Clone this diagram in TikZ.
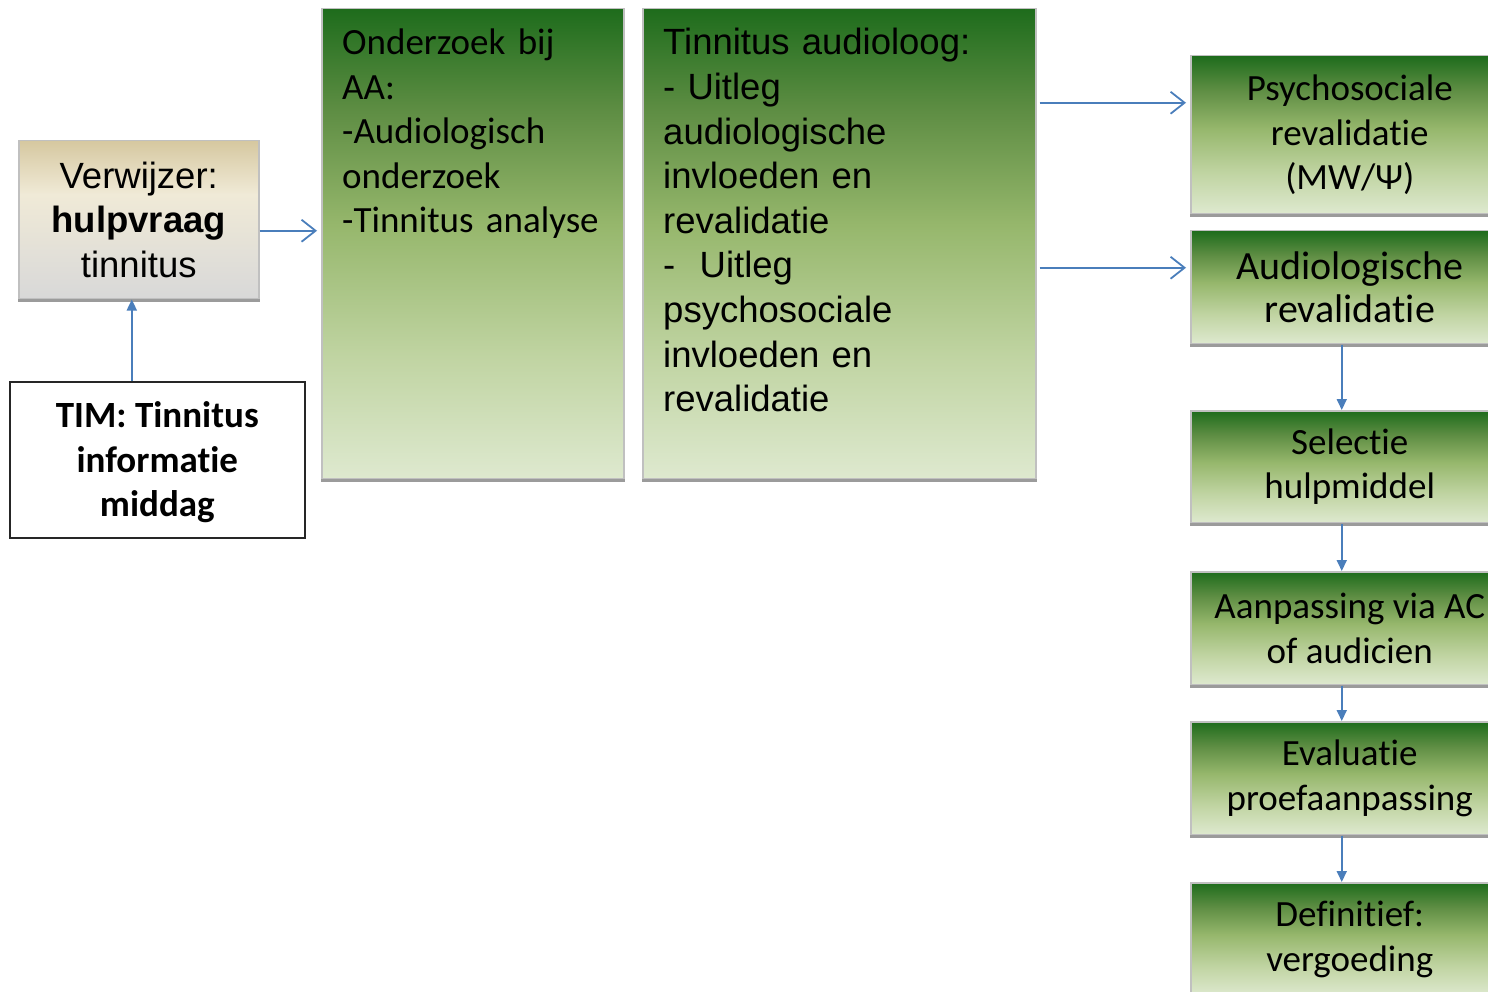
\documentclass[tikz,border=0pt]{standalone}
\usepackage{fontspec}
\setmainfont{Carlito}[Ligatures={NoCommon}]
\newfontfamily\arialf{Liberation Sans}
\usetikzlibrary{arrows.meta,calc}
\definecolor{arrowblue}{RGB}{74,126,187}
\definecolor{boxgray}{RGB}{192,192,192}
\definecolor{shadowgray}{RGB}{155,155,155}
\definecolor{gT}{RGB}{30,108,28}
\definecolor{gA}{RGB}{95,142,68}
\definecolor{gM}{RGB}{150,183,108}
\definecolor{gC}{RGB}{192,212,162}
\definecolor{gB}{RGB}{222,233,207}
\definecolor{tT}{RGB}{214,200,160}
\definecolor{tM}{RGB}{240,234,215}
\definecolor{tB}{RGB}{216,216,216}
\pgfdeclareverticalshading{greengrad}{100bp}{color(0bp)=(gB); color(25bp)=(gB); color(38bp)=(gC); color(52bp)=(gM); color(64bp)=(gA); color(75bp)=(gT); color(100bp)=(gT)}
\pgfdeclareverticalshading{tangrad}{100bp}{color(0bp)=(tB); color(25bp)=(tB); color(58bp)=(tM); color(75bp)=(tT); color(100bp)=(tT)}
\begin{document}
\begin{tikzpicture}[x=1pt,y=-1pt,
  box/.style={draw=boxgray, line width=1.5pt, inner sep=0pt, anchor=north west},
  greenbox/.style={box, shading=greengrad},
  tanbox/.style={box, shading=tangrad},
  rbox/.style={greenbox, minimum width=318pt, align=center, font=\fontsize{37}{44.5}\selectfont},
  timbox/.style={draw=black!85, line width=1.6pt, fill=white, inner sep=0pt, anchor=north west},
  txt/.style={anchor=base west, inner sep=0pt, align=left},
  shadowline/.style={draw=shadowgray, line width=3pt},
  openarrow/.style={draw=arrowblue, line width=1.8pt, -{Straight Barb[length=14pt,width=22pt]}},
  filledarrow/.style={draw=arrowblue, line width=1.8pt, -{Triangle[length=11pt,width=10pt]}}
]
\path[use as bounding box] (0,0) rectangle (1488,992);
\clip (0,0) rectangle (1488,992);

% left column
\node[tanbox, minimum width=240pt, minimum height=158pt, align=center,
      font=\arialf\fontsize{36.5}{44.5}\selectfont] (verw) at (18,140)
      {Verwijzer:\\\textbf{hulpvraag}\\tinnitus};
\draw[shadowline] ([yshift=-1pt]verw.south west) -- ([yshift=-1pt]verw.south east);

\node[timbox, minimum width=295pt, minimum height=156pt] (tim) at (9,381) {};
\node[align=center, inner sep=0pt, font=\fontsize{37}{44.5}\selectfont\bfseries] (timT)
      at ([yshift=-2.5pt]tim.center) {TIM: Tinnitus\\informatie\\middag};

% middle boxes
\node[greenbox, minimum width=302pt, minimum height=470pt] (ond) at (321,8) {};
\draw[shadowline] ([yshift=-1pt]ond.south west) -- ([yshift=-1pt]ond.south east);
\node[txt, text width=280pt, font=\fontsize{37}{44.5}\selectfont] (ondT) at (342,55)
      {Onderzoek bij\\AA:\\-Audiologisch\\onderzoek\\-Tinnitus analyse};

\node[greenbox, minimum width=393pt, minimum height=470pt] (ta) at (642,8) {};
\draw[shadowline] ([yshift=-1pt]ta.south west) -- ([yshift=-1pt]ta.south east);
\node[txt, text width=370pt, font=\arialf\fontsize{36.5}{44.6}\selectfont] (taT) at (663,55)
      {Tinnitus audioloog:\\- Uitleg\\audiologische\\invloeden en\\revalidatie\\-\ \ Uitleg\\psychosociale\\invloeden en\\revalidatie};

% right column
\node[rbox, minimum height=158pt] (psy) at (1190,55) {Psychosociale\\revalidatie\\(MW/Ψ)};
\node[rbox, minimum height=113pt, font=\fontsize{40}{43}\selectfont] (aud) at (1190,230) {Audiologische\\revalidatie};
\node[rbox, minimum height=112pt] (sel) at (1190,410) {Selectie\\hulpmiddel};
\node[rbox, minimum height=113pt] (aan) at (1190,571) {Aanpassing via AC\\of audicien};
\node[rbox, minimum height=113pt] (eva) at (1190,721) {Evaluatie\\proefaanpassing};
\node[rbox, minimum height=113pt] (def) at (1190,882) {Definitief:\\vergoeding};
\foreach \b in {psy,aud,sel,aan,eva}
  \draw[shadowline] ([yshift=-1pt]\b.south west) -- ([yshift=-1pt]\b.south east);

% connectors
\coordinate (a1) at ([xshift=-25.5pt]tim.north);
\draw[filledarrow] (a1) -- (a1 |- verw.south);
\draw[openarrow, shorten >=4pt] ([yshift=-11pt]verw.east) -- ([yshift=-11pt]verw.east -| ond.west);
\draw[openarrow, shorten <=3pt, shorten >=4pt] ([yshift=32pt]psy.west -| ta.east) -- ([yshift=32pt]psy.west);
\draw[openarrow, shorten <=3pt, shorten >=4pt] ([yshift=19.5pt]aud.west -| ta.east) -- ([yshift=19.5pt]aud.west);
\draw[filledarrow] ([xshift=-8pt]aud.south) -- ([xshift=-8pt]sel.north);
\draw[filledarrow] ([xshift=-8pt]sel.south) -- ([xshift=-8pt]aan.north);
\draw[filledarrow] ([xshift=-8pt]aan.south) -- ([xshift=-8pt]eva.north);
\draw[filledarrow] ([xshift=-8pt]eva.south) -- ([xshift=-8pt]def.north);
\end{tikzpicture}
\end{document}
